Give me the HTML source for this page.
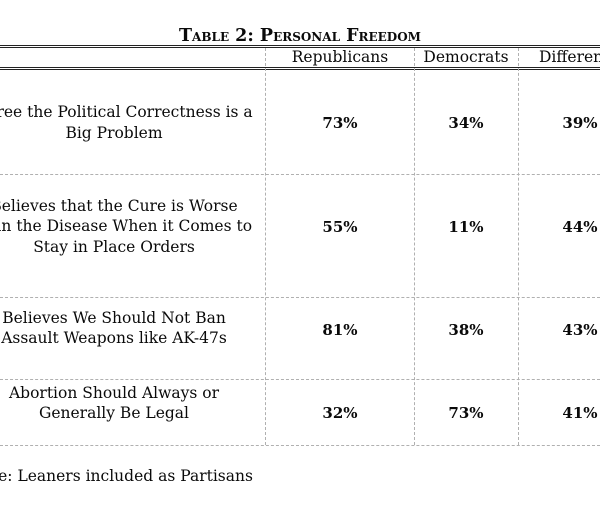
<!DOCTYPE html>
<html>
<head>
<meta charset="utf-8">
<style>
  html, body { margin: 0; padding: 0; background: #fff; }
  body { width: 600px; height: 515px; position: relative; overflow: hidden;
         font-family: "DejaVu Serif", "Liberation Serif", serif; color: #0a0a0a; }
  .t { position: absolute; white-space: nowrap; text-align: center; font-size: 15.5px; line-height: 20.6px; }
  .v { position: absolute; white-space: nowrap; text-align: center; font-size: 15px; line-height: 20px; font-weight: bold; }
  .hl { position: absolute; left: 0; width: 600px; height: 1px; background: #222; }
  .dh { position: absolute; left: 0; width: 600px; height: 0; border-top: 1px dashed #b0b0b0; }
  .dv { position: absolute; width: 0; border-left: 1px dashed #b0b0b0; }
</style>
</head>
<body>

<div class="t" style="left:100px;width:400px;top:25.5px;line-height:20px;font-size:17.5px;font-weight:bold;font-variant:small-caps;">Table 2: Personal Freedom</div>

<div class="hl" style="top:45px"></div>
<div class="hl" style="top:47px"></div>
<div class="hl" style="top:67px"></div>
<div class="hl" style="top:69px"></div>

<div class="dv" style="left:265px;top:48px;height:397px"></div>
<div class="dv" style="left:414px;top:48px;height:397px"></div>
<div class="dv" style="left:518px;top:48px;height:397px"></div>

<div class="dh" style="top:174px"></div>
<div class="dh" style="top:297px"></div>
<div class="dh" style="top:379px"></div>
<div class="dh" style="top:445px"></div>

<!-- header -->
<div class="t" style="left:240px;width:200px;top:47px">Republicans</div>
<div class="t" style="left:366px;width:200px;top:47px">Democrats</div>
<div class="t" style="left:480px;width:200px;top:47px">Difference</div>

<!-- row 1 -->
<div class="t" style="left:-86px;width:400px;top:102px">Agree the Political Correctness is a<br>Big Problem</div>
<div class="v" style="left:240px;width:200px;top:112.5px">73%</div>
<div class="v" style="left:366px;width:200px;top:112.5px">34%</div>
<div class="v" style="left:480px;width:200px;top:112.5px">39%</div>

<!-- row 2 -->
<div class="t" style="left:-86px;width:400px;top:195.7px">Believes that the Cure is Worse<br>than the Disease When it Comes to<br>Stay in Place Orders</div>
<div class="v" style="left:240px;width:200px;top:216.7px">55%</div>
<div class="v" style="left:366px;width:200px;top:216.7px">11%</div>
<div class="v" style="left:480px;width:200px;top:216.7px">44%</div>

<!-- row 3 -->
<div class="t" style="left:-86px;width:400px;top:307.7px">Believes We Should Not Ban<br>Assault Weapons like AK-47s</div>
<div class="v" style="left:240px;width:200px;top:319.5px">81%</div>
<div class="v" style="left:366px;width:200px;top:319.5px">38%</div>
<div class="v" style="left:480px;width:200px;top:319.5px">43%</div>

<!-- row 4 -->
<div class="t" style="left:-86px;width:400px;top:382.7px">Abortion Should Always or<br>Generally Be Legal</div>
<div class="v" style="left:240px;width:200px;top:403px">32%</div>
<div class="v" style="left:366px;width:200px;top:403px">73%</div>
<div class="v" style="left:480px;width:200px;top:403px">41%</div>

<!-- note -->
<div class="t" style="left:-31px;top:466.3px;text-align:left">Note: Leaners included as Partisans</div>

</body>
</html>
